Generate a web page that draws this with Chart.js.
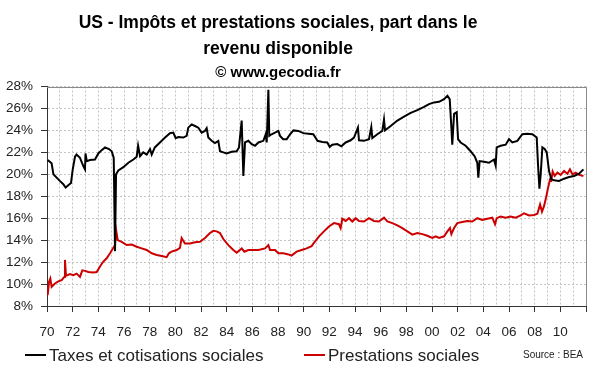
<!DOCTYPE html>
<html lang="fr">
<head>
<meta charset="utf-8">
<title>US - Impôts et prestations sociales</title>
<script src="https://cdn.jsdelivr.net/npm/chart.js@4.4.1/dist/chart.umd.min.js"></script>
<style>
    html, body { margin: 0; padding: 0; background: #fff; }
    #wrap { width: 600px; height: 372px; }
</style>
</head>
<body>
<div id="wrap"><canvas id="graphe"></canvas></div>
<script>
/* ============================================================
   US - Impots et prestations sociales / revenu disponible
===============================================================*/

/* ============================
   DONNEES
============================ */
const TITRE = ["US - Impôts et prestations sociales, part dans le", "revenu disponible"];
const SOUS_TITRE = "© www.gecodia.fr";
const SOURCE = "Source : BEA";
const SERIES = ["Taxes et cotisations sociales", "Prestations sociales"];

const etiquettesX = ["70","72","74","76","78","80","82","84","86","88",
                     "90","92","94","96","98","00","02","04","06","08","10"];

const anneesTaxes = [
    1970.05,1970.36,1970.5,1970.75,1971.0,1971.27,1971.45,1971.66,1971.87,1972.0,
    1972.18,1972.3,1972.57,1972.83,1972.96,1973.0,1973.1,1973.35,1973.74,1974.0,
    1974.26,1974.52,1974.83,1975.04,1975.2,1975.3,1975.38,1975.56,1975.95,1976.34,
    1976.73,1976.99,1977.1,1977.25,1977.5,1977.77,1978.03,1978.16,1978.4,1978.8,
    1979.2,1979.58,1979.84,1980.03,1980.23,1980.62,1980.88,1981.01,1981.27,1981.53,
    1981.79,1982.05,1982.3,1982.44,1982.57,1982.83,1983.09,1983.35,1983.48,1983.74,
    1984.0,1984.39,1984.78,1984.96,1985.17,1985.3,1985.43,1985.69,1985.95,1986.21,
    1986.47,1986.86,1987.04,1987.12,1987.25,1987.32,1987.5,1987.77,1988.03,1988.16,
    1988.4,1988.68,1988.94,1989.2,1989.58,1989.97,1990.36,1990.75,1990.94,1991.07,
    1991.46,1991.84,1992.03,1992.23,1992.62,1992.94,1993.27,1993.66,1993.92,1994.23,
    1994.31,1994.7,1995.09,1995.27,1995.35,1995.74,1996.13,1996.26,1996.34,1996.78,
    1997.3,1997.82,1998.34,1998.86,1999.38,1999.77,2000.16,2000.55,2000.94,2001.2,
    2001.38,2001.51,2001.58,2001.72,2001.92,2002.03,2002.23,2002.62,2003.01,2003.32,
    2003.53,2003.61,2003.71,2004.05,2004.44,2004.83,2004.96,2005.04,2005.35,2005.74,
    2006.0,2006.26,2006.65,2007.04,2007.43,2007.82,2008.16,2008.26,2008.37,2008.47,
    2008.6,2008.78,2008.94,2009.12,2009.3,2009.51,2009.9,2010.29,2010.68,2011.07,
    2011.46,2011.8
];
const taxes = [
    21.3,21.0,20.0,19.7,19.4,19.1,18.8,19.0,19.2,20.4,
    21.6,21.8,21.5,20.75,20.45,21.9,21.2,21.3,21.35,21.9,
    22.2,22.45,22.3,22.1,21.5,13.0,20.0,20.35,20.65,21.05,
    21.35,21.6,22.6,21.65,22.0,21.8,22.3,21.8,22.45,22.9,
    23.35,23.75,23.8,23.3,23.4,23.35,23.5,24.25,24.55,24.4,
    24.25,23.8,23.95,24.2,23.35,23.05,22.85,23.05,22.1,22.0,
    21.9,22.05,22.1,22.45,24.9,19.85,22.9,23.05,22.75,22.6,
    22.9,23.05,23.65,22.9,27.7,23.5,23.65,23.8,23.95,23.5,
    23.2,23.2,23.65,24.0,23.95,23.75,23.7,23.65,23.3,23.05,
    22.95,22.9,22.5,22.7,22.75,22.55,22.9,23.1,23.35,24.25,
    23.1,23.05,23.2,24.3,23.3,23.65,23.95,25.0,24.0,24.4,
    24.9,25.25,25.6,25.85,26.15,26.4,26.55,26.6,26.85,27.15,
    26.85,24.25,22.7,25.5,25.65,23.2,22.9,22.6,22.1,21.65,
    21.05,19.7,21.2,21.15,21.05,21.35,20.8,22.45,22.6,22.7,
    23.2,22.9,23.05,23.65,23.7,23.65,23.35,20.9,18.7,20.0,
    22.45,22.3,22.0,20.3,19.55,19.45,19.4,19.6,19.75,19.85,
    20.05,20.45
];

const anneesPrestations = [
    1970.05,1970.16,1970.26,1970.36,1970.62,1970.88,1971.14,1971.35,1971.4,1971.48,
    1971.79,1972.05,1972.31,1972.57,1972.75,1972.96,1973.22,1973.61,1973.87,1974.13,
    1974.39,1974.65,1974.91,1975.17,1975.3,1975.38,1975.51,1975.82,1976.21,1976.6,
    1976.99,1977.38,1977.77,1978.16,1978.55,1978.94,1979.32,1979.5,1979.71,1980.1,
    1980.36,1980.49,1980.75,1981.14,1981.53,1981.92,1982.31,1982.7,1982.96,1983.22,
    1983.48,1983.74,1984.13,1984.52,1984.78,1985.17,1985.38,1985.69,1986.08,1986.47,
    1986.99,1987.25,1987.38,1987.77,1988.03,1988.42,1988.81,1989.06,1989.45,1989.84,
    1990.23,1990.62,1990.8,1991.2,1991.58,1991.97,1992.36,1992.75,1992.88,1993.01,
    1993.27,1993.53,1993.79,1994.05,1994.31,1994.7,1995.09,1995.48,1995.87,1996.26,
    1996.52,1996.91,1997.3,1997.69,1998.08,1998.47,1998.86,1999.25,1999.64,2000.03,
    2000.29,2000.55,2000.94,2001.2,2001.4,2001.51,2001.72,2001.97,2002.36,2002.75,
    2003.14,2003.53,2003.92,2004.31,2004.7,2004.91,2005.04,2005.35,2005.74,2006.13,
    2006.52,2006.91,2007.17,2007.56,2007.95,2008.21,2008.42,2008.57,2008.73,2008.91,
    2009.04,2009.2,2009.3,2009.4,2009.56,2009.77,2010.03,2010.29,2010.55,2010.75,
    2010.94,2011.2,2011.46,2011.8
];
const prestations = [
    8.98,10.2,10.5,9.75,10.05,10.25,10.35,10.65,12.2,10.75,
    10.9,10.8,10.95,10.65,11.25,11.2,11.1,11.05,11.1,11.6,
    12.05,12.35,12.8,13.3,13.55,14.95,14.0,13.85,13.55,13.6,
    13.4,13.25,13.1,12.8,12.65,12.55,12.45,12.8,12.95,13.1,
    13.3,14.2,13.7,13.7,13.8,13.85,14.2,14.65,14.85,14.8,
    14.65,14.1,13.55,13.1,12.85,13.25,12.95,13.1,13.1,13.1,
    13.25,13.55,13.1,13.1,12.8,12.8,12.7,12.6,12.95,13.1,
    13.25,13.45,13.75,14.35,14.8,15.25,15.55,15.45,15.1,15.95,
    15.75,16.0,15.7,16.0,15.75,15.7,16.0,15.75,15.7,16.05,
    15.7,15.55,15.35,15.1,14.8,14.5,14.65,14.55,14.4,14.2,
    14.35,14.2,14.35,14.8,15.1,14.55,15.1,15.55,15.65,15.75,
    15.7,16.0,15.85,15.95,16.05,15.45,16.0,16.15,16.05,16.15,
    16.05,16.25,16.45,16.25,16.3,16.4,17.25,16.6,17.1,18.0,
    18.75,19.55,19.45,20.25,19.85,20.15,19.95,20.3,20.05,20.45,
    20.0,20.15,19.95,19.85
];

/* ============================
   HELPERS
============================ */
const POLICE = '"Liberation Sans", Arial, Helvetica, sans-serif';

function points(annees, valeurs) {
    return annees.map((a, i) => ({ x: a, y: valeurs[i] }));
}

function etiquetteAnnee(v) {
    const idx = (v - 1970) / 2;
    return Number.isInteger(idx) && idx < etiquettesX.length ? etiquettesX[idx] : "";
}

function couleurTick(c) {
    return c.tick && c.tick.value % 2 === 0 ? "#333" : "rgba(0,0,0,0)";
}

// titre recentre, cadre haut/droite, legende et source en bas
const habillage = {
    id: "habillage",
    afterLayout(chart) {
        const Titre = chart.titleBlock.constructor;
        chart.boxes.filter(b => b instanceof Titre).forEach(b => {
            b.left = 0;
            b.right = 556;
        });
    },
    afterDraw(chart) {
        const { ctx, chartArea: a } = chart;
        ctx.save();
        ctx.strokeStyle = "#8a8a8a";
        ctx.lineWidth = 1;
        ctx.beginPath();
        ctx.moveTo(a.left, Math.round(a.top) + 0.5);
        ctx.lineTo(Math.round(a.right) + 0.5, Math.round(a.top) + 0.5);
        ctx.lineTo(Math.round(a.right) + 0.5, a.bottom);
        ctx.stroke();

        // legende
        const yLeg = 355;
        const depart = [25, 304];
        ctx.font = "17px " + POLICE;
        ctx.textAlign = "left";
        ctx.textBaseline = "middle";
        chart.data.datasets.forEach((ds, i) => {
            const x0 = depart[i];
            ctx.strokeStyle = ds.borderColor;
            ctx.lineWidth = 2;
            ctx.beginPath();
            ctx.moveTo(x0, yLeg);
            ctx.lineTo(x0 + 21, yLeg);
            ctx.stroke();
            ctx.fillStyle = "#222";
            ctx.fillText(ds.label, x0 + 24, yLeg + 1);
        });

        ctx.font = "10px " + POLICE;
        ctx.fillStyle = "#222";
        ctx.textAlign = "right";
        ctx.fillText(SOURCE, 583, 355);
        ctx.restore();
    }
};

/* ============================
   RENDER
============================ */
new Chart(document.getElementById("graphe"), {
    type: "line",
    data: {
        datasets: [
            {
                label: SERIES[0],
                data: points(anneesTaxes, taxes),
                borderColor: "#000000",
                borderWidth: 2,
                pointRadius: 0,
                tension: 0
            },
            {
                label: SERIES[1],
                data: points(anneesPrestations, prestations),
                borderColor: "#cc0000",
                borderWidth: 2,
                pointRadius: 0,
                tension: 0
            }
        ]
    },
    options: {
        responsive: true,
        maintainAspectRatio: false,
        animation: false,
        layout: { padding: { left: 0, right: 14, top: 0, bottom: 32 } },
        scales: {
            x: {
                type: "linear",
                min: 1970,
                max: 2012,
                afterFit: s => { s.height = 34; },
                ticks: {
                    stepSize: 1,
                    autoSkip: false,
                    maxRotation: 0,
                    padding: 12,
                    color: "#222",
                    font: { family: POLICE, size: 13.5 },
                    callback: v => etiquetteAnnee(v)
                },
                grid: { color: "#c4c4c4", tickLength: 6, tickColor: couleurTick },
                border: { color: "#333", width: 1, dash: [2, 2] }
            },
            y: {
                min: 8,
                max: 28,
                afterFit: s => { s.width = 47; },
                ticks: {
                    stepSize: 1,
                    padding: 8,
                    color: "#222",
                    font: { family: POLICE, size: 13.5 },
                    callback: v => (v % 2 === 0 ? v + "%" : "")
                },
                grid: { color: "#c4c4c4", tickLength: 6, tickColor: couleurTick },
                border: { color: "#333", width: 1, dash: [2, 2] }
            }
        },
        plugins: {
            title: {
                display: true,
                text: TITRE,
                color: "#000",
                font: { family: POLICE, size: 17.5, weight: "bold", lineHeight: 1.5 },
                padding: { top: 10, bottom: 0 }
            },
            subtitle: {
                display: true,
                text: SOUS_TITRE,
                color: "#000",
                font: { family: POLICE, size: 15, weight: "bold", lineHeight: 1.2 },
                padding: { top: 1, bottom: 5 }
            },
            legend: { display: false },
            tooltip: { enabled: false }
        }
    },
    plugins: [habillage]
});
</script>
</body>
</html>
